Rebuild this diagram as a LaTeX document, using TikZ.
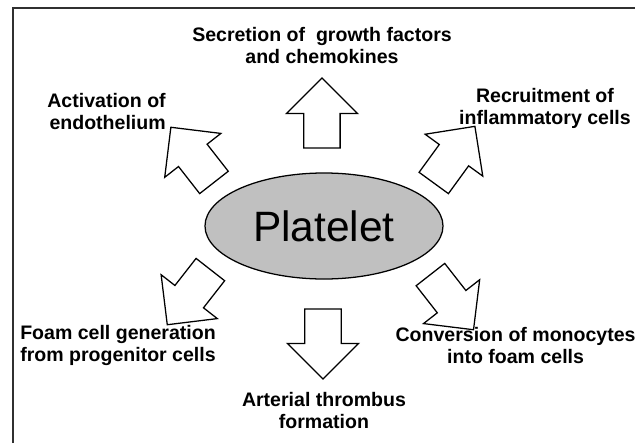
\documentclass[tikz,border=0pt]{standalone}
\usepackage{fontspec}
\setmainfont{Liberation Sans}
\usetikzlibrary{shapes,arrows,positioning}
\definecolor{plategray}{HTML}{C0C0C0}
\definecolor{framegray}{HTML}{303030}

\begin{document}
\begin{tikzpicture}[
  cell/.style={ellipse, draw, fill=plategray, line width=0.9pt, minimum width=5.95cm, minimum height=2.65cm, inner sep=0pt, font=\fontsize{30.2}{34}\selectfont},
  blockarrow/.style={single arrow, draw, fill=white, line width=0.9pt, minimum height=1.75cm, minimum width=1.75cm, single arrow head extend=0.4375cm, single arrow head indent=0pt, inner xsep=0pt, inner ysep=0.4375cm},
  effect/.style={align=center, inner sep=0pt, font=\fontsize{13.9}{15.65}\selectfont\bfseries}
]
  \useasboundingbox (-8.1,-5.425) rectangle (7.775,5.65);
  % open frame, only left and top edges
  \coordinate (framebl) at (-7.775,-5.425);
  \coordinate (frametl) at (-7.775,5.45);
  \coordinate (frametr) at (7.775,5.45);
  \draw[framegray, line width=1.1pt] (framebl) -- (frametl) -- (frametr);

  \node[cell] (platelet) at (0,0) {Platelet};

  % arrows going out of the platelet
  \node[blockarrow, rotate=90] (up) at (-0.05,2.6) {};
  \node[blockarrow, rotate=-90] (down) at (-0.025,-2.725) {};
  \node[blockarrow, rotate=128] (upleft) at (-3.15,1.6) {};
  \node[blockarrow, rotate=54] (upright) at (3.125,1.6) {};
  \node[blockarrow, rotate=232] (downleft) at (-3.24,-1.6) {};
  \node[blockarrow, rotate=-52] (downright) at (3.06,-1.725) {};

  % effects
  \node[effect] (secretion) at (-0.05,4.51) {Secretion of \ growth factors\\and chemokines};
  \node[effect, align=right, anchor=east] (endo) at (-3.95,2.86) {Activation of\\endothelium};
  \node[effect] (recruit) at (5.525,2.95) {Recruitment of\\inflammatory cells};
  \node[effect, align=left, anchor=west] (foam) at (-7.6,-2.99) {Foam cell generation\\from progenitor cells};
  \node[effect] (thrombus) at (0,-4.625) {Arterial thrombus\\formation};
  \node[effect] (monocytes) at (4.79,-2.99) {Conversion of monocytes\\into foam cells};
\end{tikzpicture}
\end{document}
